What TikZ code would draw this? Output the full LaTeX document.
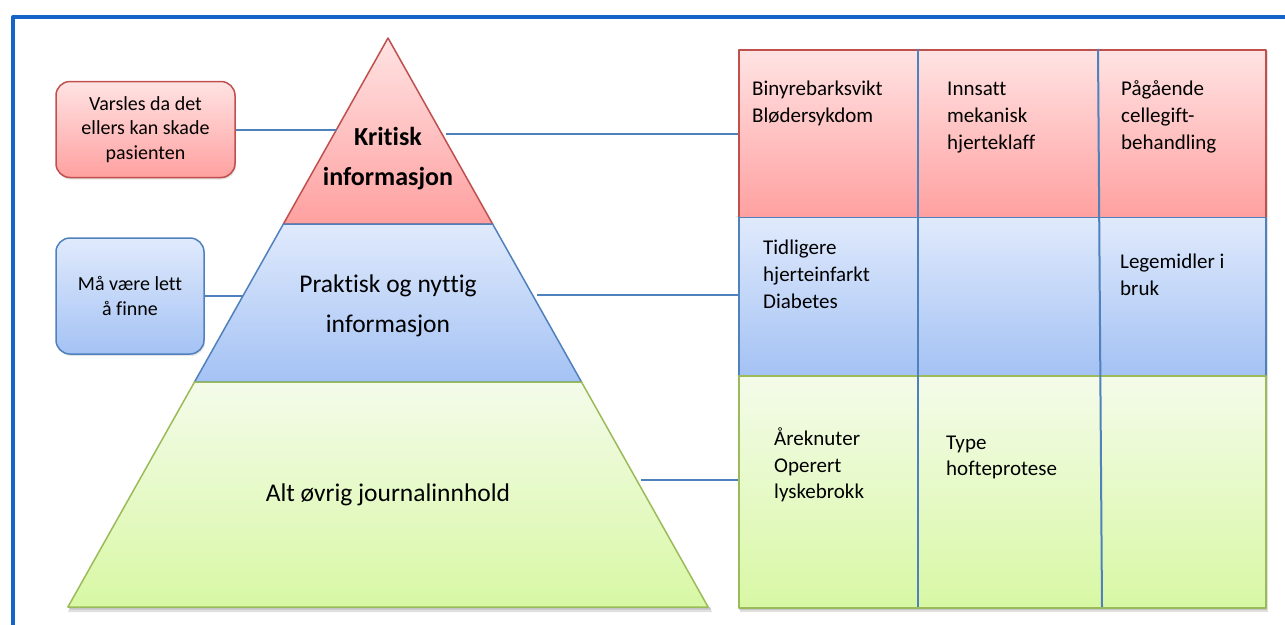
\documentclass[tikz,border=0pt]{standalone}
\usepackage{fontspec}
\setmainfont{Carlito}[Ligatures=NoCommon]
\usetikzlibrary{shadows}
\definecolor{redTop}{RGB}{255,227,227}
\definecolor{redBot}{RGB}{255,160,160}
\definecolor{redLine}{RGB}{192,80,77}
\definecolor{bluTop}{RGB}{224,234,252}
\definecolor{bluBot}{RGB}{164,194,244}
\definecolor{bluLine}{RGB}{79,129,189}
\definecolor{grnTop}{RGB}{244,251,234}
\definecolor{grnBot}{RGB}{216,248,164}
\definecolor{grnLine}{RGB}{155,187,89}
\definecolor{frameBlue}{RGB}{22,100,200}
\tikzset{
  redfill/.style={top color=redTop, bottom color=redBot, draw=redLine, line width=1.5pt},
  blufill/.style={top color=bluTop, bottom color=bluBot, draw=bluLine, line width=1.5pt},
  grnfill/.style={top color=grnTop, bottom color=grnBot, draw=grnLine, line width=1.5pt},
  callout/.style={rounded corners=14pt, align=center, inner sep=0pt,
    font=\fontsize{20}{24.5}\selectfont, line width=1.5pt},
  conn/.style={draw=bluLine, line width=2pt},
  divider/.style={draw=bluLine, line width=2pt},
  celltext/.style={anchor=north west, inner sep=0pt, align=left,
    font=\fontsize{21}{27}\selectfont},
  pyrtext/.style={align=center, inner sep=0pt, font=\fontsize{25.5}{40}\selectfont},
  shadowrect/.style={fill=black, opacity=0.12}
}
\begin{document}
\begin{tikzpicture}[x=1pt,y=-1pt,line join=round]
\useasboundingbox (0,0) rectangle (1285,624);
\fill[white] (0,0) rectangle (1285,624);
% frame
\draw[frameBlue, line width=4pt] (13,630) -- (13,17) -- (1290,17);

% callouts
\node[callout, redfill, minimum width=179pt, minimum height=96pt,
  drop shadow={shadow xshift=1pt, shadow yshift=-2pt, opacity=0.2}]
  (warn) at (145.5,129.5) {Varsles da det\\ellers kan skade\\pasienten};
\node[callout, blufill, minimum width=148pt, minimum height=116pt,
  drop shadow={shadow xshift=1pt, shadow yshift=-2pt, opacity=0.2}]
  (find) at (130,296) {Må være lett\\å finne};

% pyramid shadow
\fill[shadowrect] (70,607) -- (710,607) -- (712,612) -- (68,612) -- cycle;
\fill[shadowrect] (70,607) -- (710,607) -- (711,609.5) -- (69,609.5) -- cycle;
% pyramid
\path[redfill] (388,38) -- (492.6,224) -- (283.4,224) -- cycle;
\path[blufill] (283.4,224) -- (492.6,224) -- (581.5,382) -- (194.5,382) -- cycle;
\path[grnfill] (194.5,382) -- (581.5,382) -- (708.1,607) -- (67.9,607) -- cycle;

\node[pyrtext, font=\bfseries\fontsize{26}{40}\selectfont] (crit) at (388,158.5) {Kritisk\\informasjon};
\node[pyrtext] (prak) at (388,305.5) {Praktisk og nyttig\\informasjon};
\node[pyrtext] (alt) at (388,494.5) {Alt øvrig journalinnhold};

% table shadow
\fill[shadowrect] (740,51) rectangle (1268,612);
\fill[shadowrect] (739,50) rectangle (1266.5,609.5);
% table rows
\node[redfill, minimum width=527pt, minimum height=167.7pt, inner sep=0pt, anchor=north west] (row1) at (738,49) {};
\node[blufill, minimum width=527pt, minimum height=158.3pt, inner sep=0pt, anchor=north west] (row2) at (738,216.7) {};
\node[grnfill, minimum width=527pt, minimum height=232pt, inner sep=0pt, anchor=north west] (row3) at (738,375) {};
\coordinate (d1t) at (918,49);
\coordinate (d1b) at (918,607);
\coordinate (d2t) at (1098,49);
\coordinate (d2b) at (1102,607);
\draw[divider] (d1t) -- (d1b);
\draw[divider] (d2t) -- (d2b);

% cell texts
\node[celltext] (c11) at (752,80.5) {Binyrebarksvikt\\Blødersykdom};
\node[celltext] (c12) at (947,81.5) {Innsatt\\mekanisk\\hjerteklaff};
\node[celltext] (c13) at (1121,80.5) {Pågående\\cellegift-\\behandling};
\node[celltext] (c21) at (763,239.5) {Tidligere\\hjerteinfarkt\\Diabetes};
\node[celltext] (c23) at (1120,253.5) {Legemidler i\\bruk};
\node[celltext, font=\fontsize{21}{26.5}\selectfont] (c31) at (774,428) {Åreknuter\\Operert\\lyskebrokk};
\node[celltext, font=\fontsize{21}{26.5}\selectfont] (c32) at (946,435.5) {Type\\hofteprotese};

% connectors
\coordinate (critL) at (336.5,130.3);
\coordinate (critR) at (446,134);
\coordinate (prakL) at (243,296);
\coordinate (prakR) at (537,295);
\coordinate (altR) at (641,480);
\draw[conn] (warn.east |- critL) -- (critL);
\draw[conn] (critR) -- (critR -| row1.west);
\draw[conn] (find.east) -- (find.east -| prakL);
\draw[conn] (prakR) -- (prakR -| row2.west);
\draw[conn] (altR) -- (altR -| row3.west);
\end{tikzpicture}
\end{document}
